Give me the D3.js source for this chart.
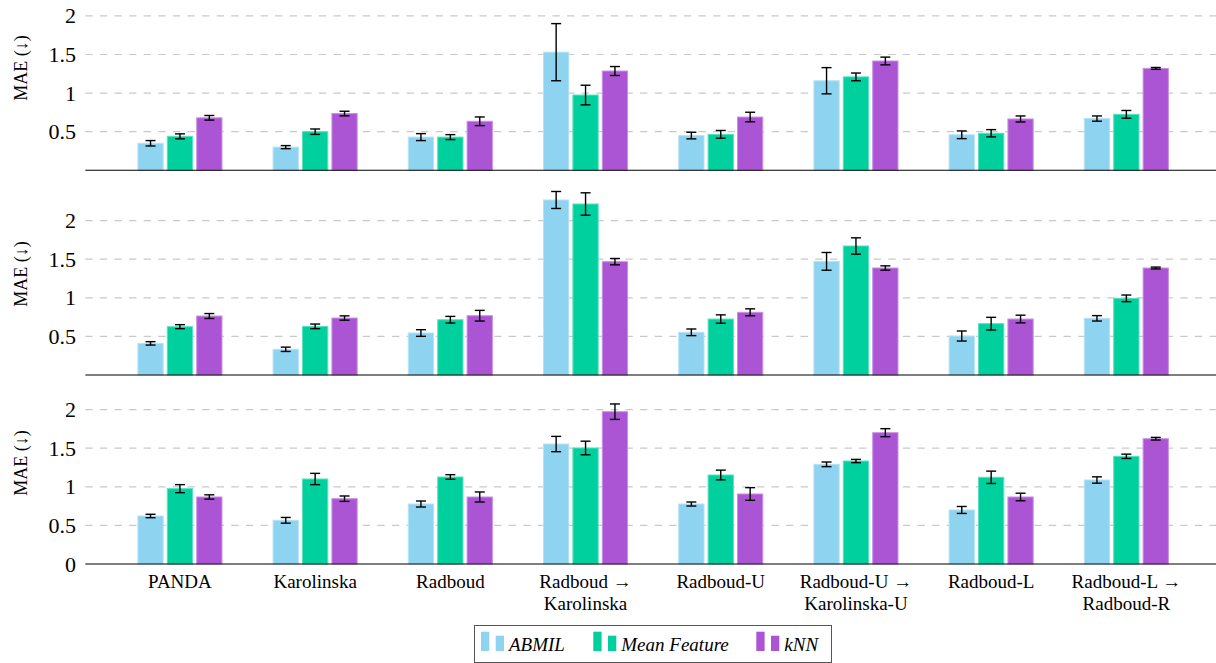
<!DOCTYPE html>
<html>
<head>
<meta charset="utf-8">
<script src="https://cdn.jsdelivr.net/npm/d3@7"></script>
<style>
  html, body { margin: 0; padding: 0; background: #fff; }
  svg { display: block; }
  text { font-family: "Liberation Serif", "DejaVu Serif", serif; fill: #000; }
</style>
</head>
<body>
<svg id="chart" width="1216" height="663"></svg>
<script>
// Cohorts / transfer settings on the x axis (line breaks marked with "\n")
const categories = [
  "PANDA", "Karolinska", "Radboud", "Radboud \u2192\nKarolinska",
  "Radboud-U", "Radboud-U \u2192\nKarolinska-U", "Radboud-L", "Radboud-L \u2192\nRadboud-R"
];
const seriesNames = ["ABMIL", "Mean Feature", "kNN"];
const seriesColors = ["#8ed3f0", "#00d09e", "#ac55d4"];
const yTicksTop = [0.5, 1, 1.5, 2];
const yTicksBottom = [0, 0.5, 1, 1.5, 2];

// Top panel: MAE and error
const abmilA = [0.35, 0.30, 0.43, 1.53, 0.45, 1.16, 0.46, 0.67];
const abmilAErr = [0.035, 0.02, 0.045, 0.37, 0.043, 0.17, 0.05, 0.034];
const meanA = [0.44, 0.50, 0.43, 0.975, 0.466, 1.21, 0.48, 0.725];
const meanAErr = [0.032, 0.035, 0.032, 0.127, 0.05, 0.05, 0.047, 0.05];
const knnA = [0.68, 0.735, 0.635, 1.286, 0.69, 1.416, 0.665, 1.32];
const knnAErr = [0.03, 0.03, 0.056, 0.058, 0.062, 0.05, 0.039, 0.012];

// Middle panel
const abmilB = [0.41, 0.333, 0.544, 2.267, 0.553, 1.472, 0.505, 0.734];
const abmilBErr = [0.022, 0.028, 0.043, 0.11, 0.043, 0.115, 0.065, 0.035];
const meanB = [0.626, 0.63, 0.716, 2.215, 0.725, 1.671, 0.665, 0.993];
const meanBErr = [0.026, 0.03, 0.043, 0.145, 0.054, 0.106, 0.082, 0.043];
const knnB = [0.764, 0.738, 0.768, 1.468, 0.812, 1.386, 0.725, 1.386];
const knnBErr = [0.032, 0.028, 0.069, 0.041, 0.045, 0.028, 0.05, 0.012];

// Bottom panel
const abmilC = [0.622, 0.566, 0.777, 1.554, 0.777, 1.291, 0.70, 1.088];
const abmilCErr = [0.022, 0.037, 0.039, 0.099, 0.026, 0.03, 0.045, 0.041];
const meanC = [0.976, 1.101, 1.127, 1.503, 1.153, 1.334, 1.123, 1.395];
const meanCErr = [0.052, 0.073, 0.03, 0.088, 0.063, 0.021, 0.08, 0.028];
const knnC = [0.868, 0.846, 0.868, 1.973, 0.907, 1.701, 0.868, 1.623];
const knnCErr = [0.028, 0.035, 0.065, 0.10, 0.082, 0.052, 0.049, 0.017];

const panels = [
  { base: 170.3, labelY: 68, ticks: yTicksTop,
    values: [abmilA, meanA, knnA], errors: [abmilAErr, meanAErr, knnAErr] },
  { base: 375, labelY: 274, ticks: yTicksTop,
    values: [abmilB, meanB, knnB], errors: [abmilBErr, meanBErr, knnBErr] },
  { base: 564, labelY: 463, ticks: yTicksBottom,
    values: [abmilC, meanC, knnC], errors: [abmilCErr, meanCErr, knnCErr] }
];

const svg = d3.select("#chart");
const xLeft = 85.3, xRight = 1221;
const pxPerUnit = 77.2;

const x = d3.scaleLinear().domain([-0.7, categories.length - 0.3]).range([xLeft, xRight]);
const xInner = d3.scaleBand().domain(seriesNames).range([-44.1, 44.1])
  .paddingInner(0.14).paddingOuter(0.07);
const color = d3.scaleOrdinal().domain(seriesNames).range(seriesColors);

panels.forEach(p => {
  const y = d3.scaleLinear().domain([0, 2]).range([p.base, p.base - 2 * pxPerUnit]);
  const g = svg.append("g");

  // dashed horizontal grid
  g.selectAll("line.grid").data(p.ticks.filter(t => t > 0)).enter().append("line")
    .attr("x1", xLeft).attr("x2", xRight)
    .attr("y1", d => y(d)).attr("y2", d => y(d))
    .attr("stroke", "#c9c9c9").attr("stroke-width", 1.2)
    .attr("stroke-dasharray", "7.3,7.3");

  // y tick labels
  g.selectAll("text.tick").data(p.ticks).enter().append("text")
    .attr("x", 76).attr("y", d => y(d))
    .attr("text-anchor", "end").attr("dominant-baseline", "central")
    .style("font-size", "22px")
    .text(d => d3.format("~g")(d));

  // y axis title
  g.append("text")
    .attr("transform", `translate(21,${p.labelY}) rotate(-90)`)
    .attr("text-anchor", "middle").attr("dominant-baseline", "central")
    .style("font-size", "18px")
    .text("MAE (\u2193)");

  // bars
  seriesNames.forEach((s, si) => {
    const vals = p.values[si], errs = p.errors[si];
    const c = color(s);
    const edge = d3.interpolateRgb(c, "#ffffff")(0.35);
    const sg = g.append("g");
    sg.selectAll("rect").data(vals).enter().append("rect")
      .attr("x", (d, i) => x(i) + xInner(s))
      .attr("width", xInner.bandwidth())
      .attr("y", d => y(d))
      .attr("height", d => y(0) - y(d))
      .attr("fill", c).attr("stroke", edge).attr("stroke-width", 1);

    // error bars
    const cx = i => x(i) + xInner(s) + xInner.bandwidth() / 2;
    const eg = sg.selectAll("g.err").data(vals).enter().append("g");
    eg.append("line")
      .attr("x1", (d, i) => cx(i)).attr("x2", (d, i) => cx(i))
      .attr("y1", (d, i) => y(d - errs[i])).attr("y2", (d, i) => y(d + errs[i]))
      .attr("stroke", "#000").attr("stroke-width", 1.4);
    [-1, 1].forEach(sign => {
      eg.append("line")
        .attr("x1", (d, i) => cx(i) - 5).attr("x2", (d, i) => cx(i) + 5)
        .attr("y1", (d, i) => y(d + sign * errs[i])).attr("y2", (d, i) => y(d + sign * errs[i]))
        .attr("stroke", "#000").attr("stroke-width", 1.4);
    });
  });

  // baseline axis
  g.append("line")
    .attr("x1", xLeft).attr("x2", xRight)
    .attr("y1", y(0)).attr("y2", y(0))
    .attr("stroke", "#000").attr("stroke-width", 1.1);
});

// category labels under the bottom panel
const xl = svg.append("g");
categories.forEach((c, i) => {
  const lines = c.split("\n");
  lines.forEach((ln, li) => {
    xl.append("text")
      .attr("x", x(i)).attr("y", 581 + li * 22.5)
      .attr("text-anchor", "middle").attr("dominant-baseline", "central")
      .style("font-size", "19px")
      .text(ln);
  });
});

// legend
const lg = svg.append("g");
lg.append("rect")
  .attr("x", 474.5).attr("y", 625.5).attr("width", 357).attr("height", 37)
  .attr("fill", "#fff").attr("stroke", "#555").attr("stroke-width", 1);
const legendItems = [
  { name: "ABMIL", x0: 481 },
  { name: "Mean Feature", x0: 593.3 },
  { name: "kNN", x0: 756.3 }
];
legendItems.forEach(it => {
  const c = color(it.name);
  lg.append("rect").attr("x", it.x0).attr("y", 631.7).attr("width", 8.3).attr("height", 19.3).attr("fill", c);
  lg.append("rect").attr("x", it.x0 + 14.7).attr("y", 635.7).attr("width", 8.3).attr("height", 15.3).attr("fill", c);
  lg.append("text")
    .attr("x", it.x0 + 28).attr("y", 651)
    .style("font-size", "19px").style("font-style", "italic")
    .text(it.name);
});
</script>
</body>
</html>
